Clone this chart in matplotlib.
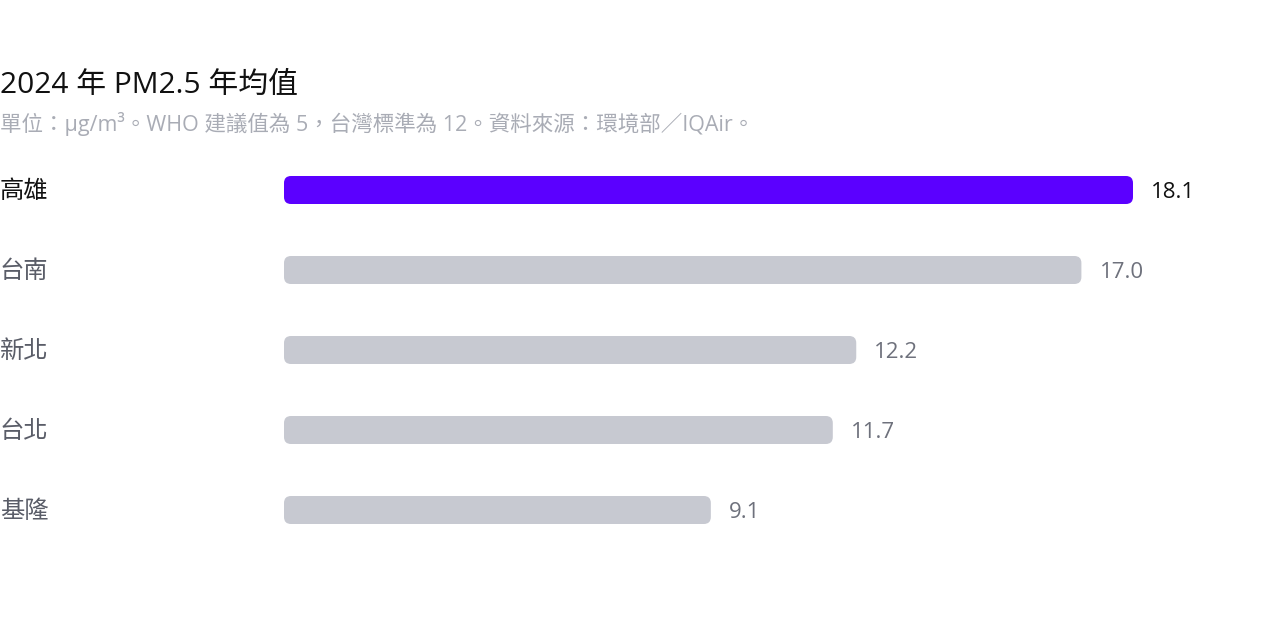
import matplotlib
matplotlib.use("Agg")
import matplotlib.pyplot as plt
from matplotlib.patches import FancyBboxPatch
from matplotlib.transforms import blended_transform_factory

plt.rcParams['font.family'] = ['Open Sans', 'Noto Sans CJK TC', 'DejaVu Sans']

cities = ["高雄", "台南", "新北", "台北", "基隆"]
values = [18.1, 17.0, 12.2, 11.7, 9.1]
value_labels = ["18.1", "17.0", "12.2", "11.7", "9.1"]
highlight = "高雄"

title = "2024 年 PM2.5 年均值"
subtitle = "單位：μg/m³。WHO 建議值為 5，台灣標準為 12。資料來源：環境部／IQAir。"

W, H = 1280, 640
fig = plt.figure(figsize=(W / 100, H / 100), dpi=100)
fig.patch.set_facecolor("white")

# axes: x=0 at 284px, ~46.9 px per unit; rows every 80px starting at 190px
x0_px = 284
px_per_unit = 849 / 18.1
xmax = 20
ax_w = xmax * px_per_unit
ax = fig.add_axes([x0_px / W, (H - 550) / H, ax_w / W, 400 / H])
ax.set_xlim(0, xmax)
ax.set_ylim(4.5, -0.5)
ax.axis("off")

bar_h = 28 / 80
hl_color = "#5B00FF"
base_color = "#C7C9D1"
bars = ax.barh(range(len(cities)), values, height=bar_h, color="none")

rx = 7 / px_per_unit
aspect = (1 / 80) / (1 / px_per_unit)
trans = blended_transform_factory(fig.transFigure, ax.transData)
for i, (b, c) in enumerate(zip(bars, cities)):
    b.set_visible(False)
    col = hl_color if c == highlight else base_color
    p = FancyBboxPatch((b.get_x(), b.get_y()), b.get_width(), b.get_height(),
                       boxstyle=f"round,pad=0,rounding_size={rx}",
                       mutation_aspect=aspect, facecolor=col, edgecolor="none")
    ax.add_patch(p)
    tcol = "#111111" if c == highlight else "#6E717C"
    ax.annotate(value_labels[i], (values[i], i), xytext=(13, -1.5), textcoords="offset points",
                ha="left", va="center", fontsize=16, color=tcol)
    lcol = "#111111" if c == highlight else "#5A5D68"
    ax.annotate(c, (0.0, i), xycoords=trans, xytext=(0, -1.5), textcoords="offset points",
                ha="left", va="center", fontsize=17.5, color=lcol)

fig.text(0.0, 1 - 85 / H, title, ha="left", va="center", fontsize=21.5, color="#111111")
fig.text(0.0, 1 - 124 / H, subtitle, ha="left", va="center", fontsize=15.5, color="#A9ACB5")

fig.savefig("out.png", dpi=100, facecolor="white")
